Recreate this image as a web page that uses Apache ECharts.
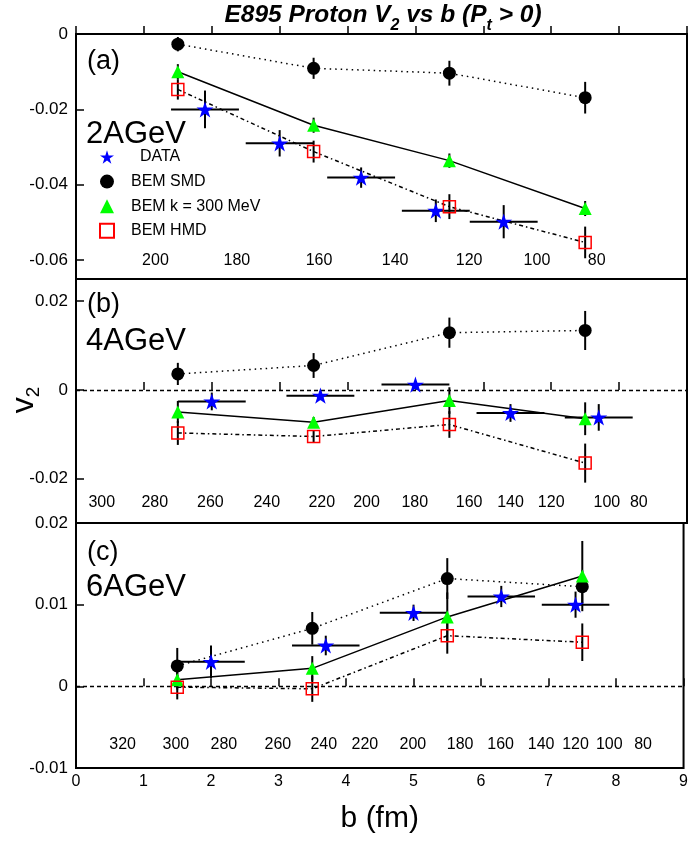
<!DOCTYPE html>
<html>
<head>
<meta charset="utf-8">
<script src="https://cdn.jsdelivr.net/npm/echarts@6/dist/echarts.min.js"></script>
<style>
  html, body { margin: 0; padding: 0; background: #fff; }
  #chart { width: 691px; height: 841px; }
</style>
</head>
<body>
<div id="chart"></div>
<script>
// model impact parameters (same for all panels)
var bModel = [1.5, 3.5, 5.5, 7.5];

// panel (a) 2 AGeV
var smdA = [-0.0027, -0.0091, -0.0104, -0.0169];
var smdErrA = [0.0019, 0.0028, 0.0033, 0.0042];
var kA = [-0.0100, -0.0242, -0.0336, -0.0463];
var kErrA = [0.002, 0.002, 0.0019, 0.002];
var hmdA = [-0.0147, -0.0312, -0.0458, -0.0553];
var hmdErrA = [0.0027, 0.0029, 0.0033, 0.0042];
var dataBA = [1.9, 3.0, 4.2, 5.3, 6.3];
var dataLoA = [1.4, 2.5, 3.7, 4.8, 5.8];
var dataHiA = [2.4, 3.5, 4.7, 5.8, 6.8];
var dataA = [-0.0200, -0.0290, -0.0381, -0.0469, -0.0498];
var dataErrA = [0.005, 0.0035, 0.0027, 0.003, 0.0044];

// panel (b) 4 AGeV
var smdB = [0.0036, 0.0055, 0.0129, 0.0134];
var smdErrB = [0.0025, 0.0028, 0.0034, 0.0044];
var kB = [-0.0050, -0.0073, -0.0024, -0.0065];
var kErrB = [0.0025, 0.0012, 0.003, 0.0037];
var hmdB = [-0.0097, -0.0105, -0.0078, -0.0165];
var hmdErrB = [0.0027, 0.0014, 0.003, 0.0044];
var dataBB = [2.0, 3.6, 5.0, 6.4, 7.7];
var dataLoB = [1.5, 3.1, 4.5, 5.9, 7.2];
var dataHiB = [2.5, 4.1, 5.5, 6.9, 8.2];
var dataB = [-0.0026, -0.0013, 0.0012, -0.0052, -0.0062];
var dataErrB = [0.002, 0.001, 0.0008, 0.002, 0.003];

// panel (c) 6 AGeV
var smdC = [0.0025, 0.0071, 0.0132, 0.0122];
var smdErrC = [0.0022, 0.002, 0.0025, 0.002];
var kC = [0.0008, 0.0022, 0.0085, 0.0135];
var kErrC = [0.0012, 0.0015, 0.003, 0.0043];
var hmdC = [-0.0001, -0.0003, 0.0062, 0.0054];
var hmdErrC = [0.0015, 0.0016, 0.0022, 0.0023];
var dataBC = [2.0, 3.7, 5.0, 6.3, 7.4];
var dataLoC = [1.5, 3.2, 4.5, 5.8, 6.9];
var dataHiC = [2.5, 4.2, 5.5, 6.8, 7.9];
var dataC = [0.0030, 0.0050, 0.0090, 0.0110, 0.0100];
var dataErrC = [0.002, 0.0012, 0.001, 0.0013, 0.0016];

// number of participants scale labels written inside each panel
var npartA = [200, 180, 160, 140, 120, 100, 80];
var npartPosA = [1.17, 2.37, 3.58, 4.70, 5.79, 6.79, 7.67];
var npartB = [300, 280, 260, 240, 220, 200, 180, 160, 140, 120, 100, 80];
var npartPosB = [0.38, 1.16, 1.98, 2.81, 3.62, 4.28, 4.99, 5.79, 6.40, 7.00, 7.82, 8.29];
var npartC = [320, 300, 280, 260, 240, 220, 200, 180, 160, 140, 120, 100, 80];
var npartPosC = [0.69, 1.48, 2.19, 2.99, 3.67, 4.28, 4.99, 5.69, 6.29, 6.89, 7.40, 7.90, 8.40];

var yTicksA = [0, -0.02, -0.04, -0.06];
var yTicksB = [0.02, 0, -0.02];
var yTicksC = [0.02, 0.01, 0, -0.01];

var FONT = '"Liberation Sans", Arial, sans-serif';
var STAR = 'path://M0,-100 L22.45,-30.9 L95.1,-30.9 L36.3,11.8 L58.8,80.9 L0,38.2 L-58.8,80.9 L-36.3,11.8 L-95.1,-30.9 L-22.45,-30.9 Z';

var panels = [
    {smd: smdA, smdErr: smdErrA, k: kA, kErr: kErrA, hmd: hmdA, hmdErr: hmdErrA,
     db: dataBA, dlo: dataLoA, dhi: dataHiA, d: dataA, dErr: dataErrA,
     np: npartA, npPos: npartPosA, npY: -0.060, min: -0.065, max: 0, ticks: yTicksA, zero: false,
     top: 34, height: 245},
    {smd: smdB, smdErr: smdErrB, k: kB, kErr: kErrB, hmd: hmdB, hmdErr: hmdErrB,
     db: dataBB, dlo: dataLoB, dhi: dataHiB, d: dataB, dErr: dataErrB,
     np: npartB, npPos: npartPosB, npY: -0.0253, min: -0.03, max: 0.025, ticks: yTicksB, zero: true,
     top: 279, height: 244},
    {smd: smdC, smdErr: smdErrC, k: kC, kErr: kErrC, hmd: hmdC, hmdErr: hmdErrC,
     db: dataBC, dlo: dataLoC, dhi: dataHiC, d: dataC, dErr: dataErrC,
     np: npartC, npPos: npartPosC, npY: -0.0071, min: -0.01, max: 0.02, ticks: yTicksC, zero: true,
     top: 523, height: 245}
];

function fmt(v) {
    return v === 0 ? '0' : String(+v.toFixed(3));
}

function zip(xs, ys) {
    return xs.map(function (x, i) { return [x, ys[i]]; });
}

function errorBars(renderParams, api) {
    var x = api.value(0), y = api.value(1);
    var xl = api.value(2), xh = api.value(3), yl = api.value(4), yh = api.value(5);
    var children = [];
    var style = {stroke: '#000', lineWidth: 2};
    if (yl !== yh) {
        var a = api.coord([x, yl]), b = api.coord([x, yh]);
        children.push({type: 'line', shape: {x1: a[0], y1: a[1], x2: b[0], y2: b[1]}, style: style});
    }
    if (xl !== xh) {
        var c = api.coord([xl, y]), d = api.coord([xh, y]);
        children.push({type: 'line', shape: {x1: c[0], y1: c[1], x2: d[0], y2: d[1]}, style: style});
    }
    return {type: 'group', children: children};
}

function npartText(renderParams, api) {
    var p = api.coord([api.value(0), api.value(1)]);
    return {
        type: 'text', x: p[0], y: p[1],
        style: {text: String(api.value(2)), fill: '#000', font: '16px ' + FONT,
                textAlign: 'center', textVerticalAlign: 'middle'}
    };
}

var grids = [], xAxes = [], yAxes = [], series = [];

panels.forEach(function (p, i) {
    grids.push({left: 76, top: p.top, width: 611, height: p.height,
                show: true, borderColor: '#000', borderWidth: 2, backgroundColor: 'transparent'});
    xAxes.push({
        gridIndex: i, type: 'value', min: 0, max: 9, interval: 1,
        axisLine: {show: false},
        axisTick: {show: true, inside: true, length: 8, lineStyle: {color: '#000', width: 1.5}},
        axisLabel: {show: i === 2, color: '#000', fontSize: 16, fontFamily: FONT, margin: 6},
        splitLine: {show: false},
        name: i === 2 ? 'b (fm)' : '',
        nameLocation: 'middle', nameGap: 36,
        nameTextStyle: {fontSize: 30, color: '#000', fontFamily: FONT}
    });
    yAxes.push({
        gridIndex: i, type: 'value', min: p.min, max: p.max,
        axisLine: {show: false},
        axisTick: {show: true, inside: true, length: 8, customValues: p.ticks,
                   lineStyle: {color: '#000', width: 1.5}},
        axisLabel: {customValues: p.ticks, formatter: fmt, color: '#000',
                    fontSize: 17, fontFamily: FONT, margin: 8},
        splitLine: {show: false}
    });

    // error bars
    var bars = [];
    [[p.smd, p.smdErr], [p.k, p.kErr], [p.hmd, p.hmdErr]].forEach(function (s) {
        bModel.forEach(function (b, j) {
            bars.push([b, s[0][j], b, b, s[0][j] - s[1][j], s[0][j] + s[1][j]]);
        });
    });
    p.db.forEach(function (b, j) {
        bars.push([b, p.d[j], p.dlo[j], p.dhi[j], p.d[j] - p.dErr[j], p.d[j] + p.dErr[j]]);
    });
    series.push({type: 'custom', xAxisIndex: i, yAxisIndex: i, renderItem: errorBars,
                 data: bars, encode: {x: 0, y: 1}, silent: true, z: 2});

    // connecting lines
    var zero = p.zero ? {
        silent: true, symbol: 'none', label: {show: false},
        lineStyle: {color: '#000', type: [4, 3], width: 1.3},
        data: [{yAxis: 0}]
    } : undefined;
    series.push({type: 'line', xAxisIndex: i, yAxisIndex: i, data: zip(bModel, p.smd),
                 symbol: 'none', silent: true, z: 3,
                 lineStyle: {color: '#000', width: 1.5, type: [1.5, 4]}, markLine: zero});
    series.push({type: 'line', xAxisIndex: i, yAxisIndex: i, data: zip(bModel, p.k),
                 symbol: 'none', silent: true, z: 3,
                 lineStyle: {color: '#000', width: 1.5, type: 'solid'}});
    series.push({type: 'line', xAxisIndex: i, yAxisIndex: i, data: zip(bModel, p.hmd),
                 symbol: 'none', silent: true, z: 3,
                 lineStyle: {color: '#000', width: 1.5, type: [4, 3, 1.5, 3]}});

    // markers
    series.push({name: 'DATA', type: 'scatter', xAxisIndex: i, yAxisIndex: i, z: 5,
                 data: zip(p.db, p.d), symbol: STAR, symbolSize: 17, symbolKeepAspect: true,
                 itemStyle: {color: '#0000ff', opacity: 1}});
    series.push({name: 'BEM SMD', type: 'scatter', xAxisIndex: i, yAxisIndex: i, z: 5,
                 data: zip(bModel, p.smd), symbol: 'circle', symbolSize: 13,
                 itemStyle: {color: '#000', opacity: 1}});
    series.push({name: 'BEM k = 300 MeV', type: 'scatter', xAxisIndex: i, yAxisIndex: i, z: 5,
                 data: zip(bModel, p.k), symbol: 'triangle', symbolSize: 13,
                 itemStyle: {color: '#00ff00', opacity: 1}});
    series.push({name: 'BEM HMD', type: 'scatter', xAxisIndex: i, yAxisIndex: i, z: 5,
                 data: zip(bModel, p.hmd), symbol: 'rect', symbolSize: 12,
                 itemStyle: {color: 'rgba(255,255,255,0)', borderColor: '#ff0000', borderWidth: 1.5, opacity: 1}});

    // participant scale labels
    series.push({type: 'custom', xAxisIndex: i, yAxisIndex: i, renderItem: npartText, silent: true, z: 4,
                 data: p.npPos.map(function (x, j) { return [x, p.npY, p.np[j]]; }),
                 encode: {x: 0, y: 1}});
});

var txt = function (text, x, y, size) {
    return {type: 'text', x: x, y: y, z: 10,
            style: {text: text, fill: '#000', font: size + 'px ' + FONT, textVerticalAlign: 'middle'}};
};

var option = {
    animation: false,
    backgroundColor: '#fff',
    grid: grids,
    xAxis: xAxes,
    yAxis: yAxes,
    legend: {
        data: ['DATA', 'BEM SMD', 'BEM k = 300 MeV', 'BEM HMD'],
        orient: 'vertical', left: 99, top: 149, padding: 0,
        itemWidth: 14, itemHeight: 14, itemGap: 8.6,
        selectedMode: false,
        formatter: function (name) { return name === 'DATA' ? '  DATA' : name; },
        textStyle: {color: '#000', fontSize: 16, fontFamily: FONT, padding: [0, 0, 0, 12]}
    },
    graphic: [
        {type: 'text', x: 383, y: 3, z: 10,
         style: {
             text: '{a|E895 Proton V}{s|2}{a| vs b (P}{s|t}{a| > 0)}',
             textAlign: 'center',
             rich: {
                 a: {fontSize: 24.5, fontWeight: 'bold', fontStyle: 'italic', fontFamily: FONT,
                     lineHeight: 23, verticalAlign: 'top', fill: '#000'},
                 s: {fontSize: 16, fontWeight: 'bold', fontStyle: 'italic', fontFamily: FONT,
                     lineHeight: 16, padding: [15, 0, 0, 0], verticalAlign: 'top', fill: '#000'}
             }
         }},
        {type: 'text', x: 8, y: 400, rotation: Math.PI / 2, z: 10,
         style: {
             text: '{a|v}{s|2}',
             textAlign: 'center', textVerticalAlign: 'top',
             rich: {
                 a: {fontSize: 32, fontFamily: FONT, lineHeight: 26, verticalAlign: 'top', fill: '#000'},
                 s: {fontSize: 19, fontFamily: FONT, lineHeight: 19, padding: [16, 0, 0, 0],
                     verticalAlign: 'top', fill: '#000'}
             }
         }},
        txt('(a)', 87, 62, 27),
        txt('2AGeV', 86, 134, 31),
        txt('(b)', 87, 305, 27),
        txt('4AGeV', 86, 341, 31),
        txt('(c)', 87, 553, 27),
        txt('6AGeV', 86, 587, 31)
    ],
    series: series
};

var myChart = echarts.init(document.getElementById('chart'));
myChart.setOption(option);
</script>
</body>
</html>
